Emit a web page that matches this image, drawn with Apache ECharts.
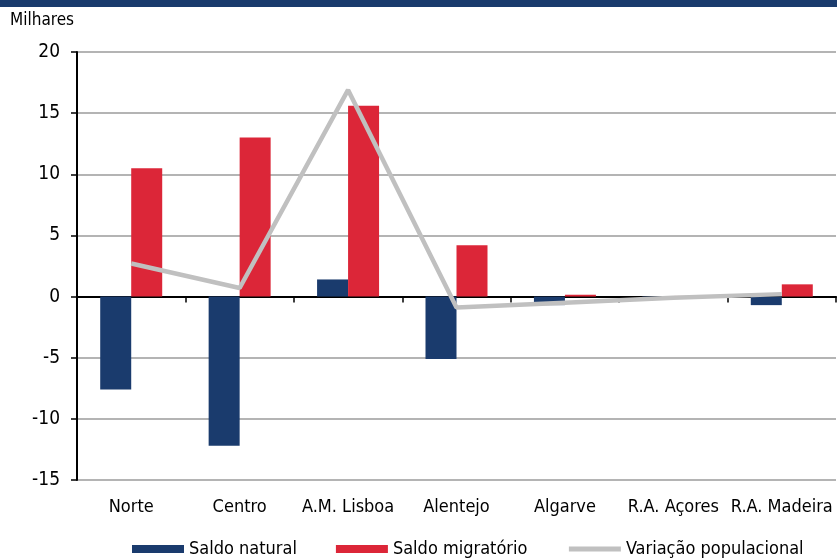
<!DOCTYPE html>
<html>
<head>
<meta charset="utf-8">
<script src="https://cdn.jsdelivr.net/npm/echarts@6/dist/echarts.min.js"></script>
<style>
  html, body { margin: 0; padding: 0; background: #fff; }
  #chart { width: 837px; height: 558px; }
</style>
</head>
<body>
<div id="chart"></div>
<script>
// Regiões NUTS II
const categories = ['Norte', 'Centro', 'A.M. Lisboa', 'Alentejo', 'Algarve', 'R.A. Açores', 'R.A. Madeira'];
// Saldos em milhares de pessoas
const saldoNatural = [-7.6, -12.2, 1.4, -5.1, -0.7, -0.1, -0.7];
const saldoMigratorio = [10.5, 13.0, 15.6, 4.2, 0.15, 0.05, 1.0];
const variacaoPopulacional = [2.7, 0.7, 16.9, -0.9, -0.5, -0.1, 0.2];
const yTicks = { min: -15, max: 20, interval: 5 };

const NAVY = '#1a3b6d';
const RED = '#dc2638';
const GREY = '#c0c0c0';
const FONT = '"DejaVu Sans Condensed", "Liberation Sans", Arial, sans-serif';

const chart = echarts.init(document.getElementById('chart'), null, { renderer: 'canvas' });

chart.setOption({
  animation: false,
  textStyle: { fontFamily: FONT },
  graphic: [
    { type: 'rect', left: 0, top: 0, shape: { width: 837, height: 7 }, style: { fill: NAVY } },
    { type: 'text', left: 10, top: 12, style: { text: 'Milhares', font: '17px ' + FONT, fill: '#000' } }
  ],
  legend: {
    left: 132,
    top: 540,
    padding: 0,
    itemWidth: 52,
    itemHeight: 8,
    itemGap: 39,
    textStyle: { fontSize: 18, color: '#000', fontFamily: FONT },
    data: [
      { name: 'Saldo natural', icon: 'rect' },
      { name: 'Saldo migratório', icon: 'rect' },
      { name: 'Variação populacional', lineStyle: { width: 5 }, itemStyle: { opacity: 0 } }
    ]
  },
  grid: { left: 77, right: 1, top: 52, bottom: 78, containLabel: false },
  xAxis: [
    {
      type: 'category',
      data: categories,
      axisLine: { onZero: true, lineStyle: { color: '#000', width: 2 } },
      axisTick: { show: true, length: 6, lineStyle: { color: '#000', width: 1.5 } },
      axisLabel: { show: false },
      splitLine: { show: false }
    },
    {
      type: 'category',
      data: categories,
      position: 'bottom',
      axisLine: { show: false, onZero: false },
      axisTick: { show: false },
      axisLabel: { show: true, margin: 18, fontSize: 18, color: '#000', fontFamily: FONT, interval: 0 },
      splitLine: { show: false }
    }
  ],
  yAxis: {
    type: 'value',
    min: yTicks.min,
    max: yTicks.max,
    interval: yTicks.interval,
    axisLine: { show: true, onZero: false, lineStyle: { color: '#000', width: 2 } },
    axisTick: { show: true, length: 6, lineStyle: { color: '#000', width: 1.5 } },
    axisLabel: { margin: 17, fontSize: 19, color: '#000', fontFamily: FONT },
    splitLine: { show: true, lineStyle: { color: '#b4b4b4', width: 2 } }
  },
  series: [
    {
      name: 'Saldo natural',
      type: 'bar',
      data: saldoNatural,
      barWidth: 31,
      barGap: '0%',
      itemStyle: { color: NAVY }
    },
    {
      name: 'Saldo migratório',
      type: 'bar',
      data: saldoMigratorio,
      barWidth: 31,
      barGap: '0%',
      itemStyle: { color: RED }
    },
    {
      name: 'Variação populacional',
      type: 'line',
      data: variacaoPopulacional,
      symbol: 'none',
      showSymbol: false,
      lineStyle: { color: GREY, width: 4.5 },
      itemStyle: { color: GREY },
      z: 5
    }
  ]
});
</script>
</body>
</html>
